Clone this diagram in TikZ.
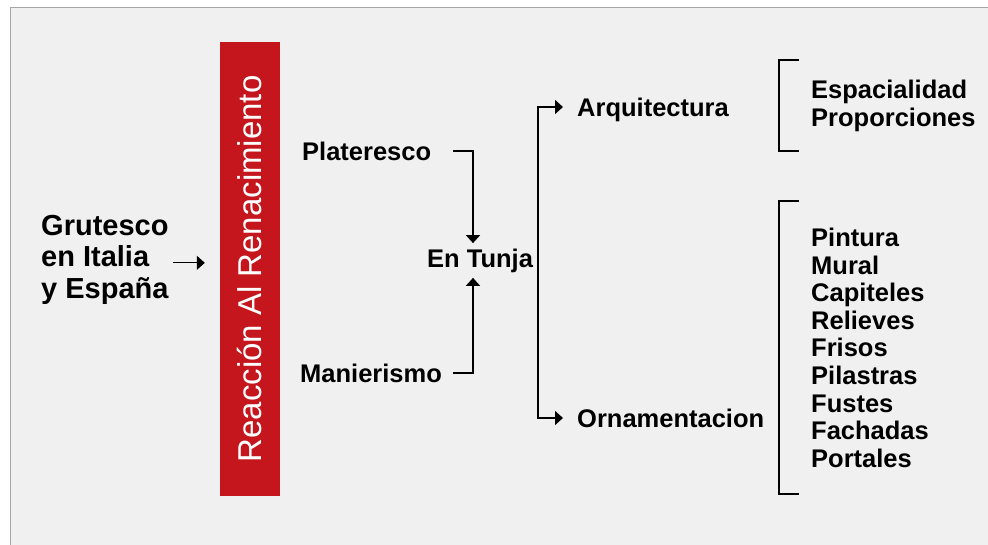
\documentclass[tikz,border=0pt]{standalone}
\usepackage{fontspec}
\setmainfont{Liberation Sans}
\usetikzlibrary{arrows.meta}
\definecolor{barred}{HTML}{C4161C}
\definecolor{bggray}{HTML}{F0F0F0}
\definecolor{framegray}{HTML}{A6A6A6}
\begin{document}
\begin{tikzpicture}[x=1pt,y=-1pt]
    \tikzset{lbl/.style = {inner sep=0pt, text height=18.3pt, text depth=0pt, anchor=west, font=\bfseries\fontsize{25.5}{27.6}\selectfont}}
    \tikzset{bar/.style = {fill=barred, text=white, inner sep=0pt, minimum width=454pt, minimum height=60pt, text height=23.6pt, text depth=0pt, font=\fontsize{33}{36}\selectfont}}
    \tikzset{arr/.style = {-{Triangle[width=14pt,length=8pt]}, line width=1.5pt}}
    \tikzset{twoarr/.style = {{Triangle[width=14pt,length=8pt]}-{Triangle[width=14pt,length=8pt]}, line width=1.5pt}}
    \useasboundingbox (0,0) rectangle (988,545);
    \clip (0,0) rectangle (988,545);
    \fill[white] (0,0) rectangle (988,545);
    \draw[framegray, fill=bggray] (10.5,7.5) rectangle (1000,560);
    \node[inner sep=0pt, align=left, anchor=north west, font=\bfseries\fontsize{29}{31.5}\selectfont] (gru) at (41,215) {Grutesco\\en Italia\\y España};
    \node[bar, rotate=90] (reac) at (250,269) {Reacción Al Renacimiento};
    \node[lbl] (plat) at (302,151) {Plateresco};
    \node[lbl] (mani) at (300,373) {Manierismo};
    \node[lbl] (tunja) at (427,258.5) {En Tunja};
    \node[lbl] (arq) at (577,107) {Arquitectura};
    \node[lbl] (orn) at (577,418) {Ornamentacion};
    \node[lbl] (esp) at (811,89.4) {Espacialidad};
    \node[lbl] (prop) at (811,117) {Proporciones};
    \foreach \w [count=\i] in {Pintura,Mural,Capiteles,Relieves,Frisos,Pilastras,Fustes,Fachadas,Portales}
        \node[lbl] (elem\i) at (811,{209.8+27.6*\i}) {\w};
    \coordinate (gruout) at ([yshift=-3pt]gru.east);
    \draw[arr, line width=1.2pt, shorten <=4pt, shorten >=15pt] (gruout) -- (gruout -| reac.north);
    \draw[arr, shorten >=6pt] ([xshift=22pt]plat.east) -| ([xshift=46pt]tunja.north west);
    \draw[arr, shorten >=10pt] ([xshift=11pt]mani.east) -| ([xshift=46pt]tunja.south west);
    \draw[twoarr, shorten <=14pt, shorten >=14pt] (arq.west) -- ++(-39,0) |- (orn.west);
    \draw[line width=1.5pt] (799,60) -| (779,151) -- (799,151);
    \draw[line width=1.5pt] (799,201) -| (779,494) -- (799,494);
\end{tikzpicture}
\end{document}
